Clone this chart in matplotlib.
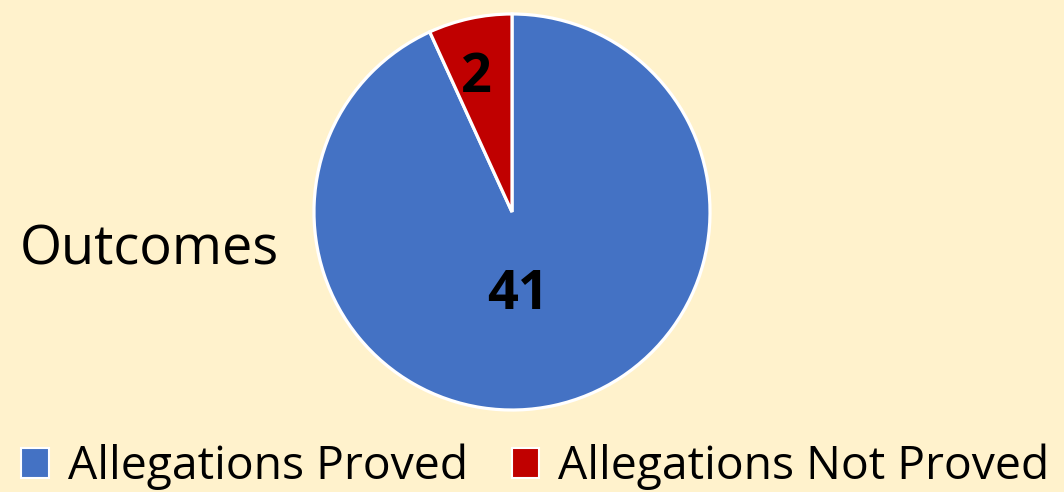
import matplotlib.pyplot as plt
from matplotlib.patches import Patch

labels = ["Allegations Proved", "Allegations Not Proved"]
values = [41, 2]          # numbers printed on the slices
slice_sizes = [41, 3]     # slice angles as drawn in the picture (~24 deg red wedge)
colors = ["#4472C4", "#C00000"]
title = "Outcomes"
bg = "#FFF2CC"

plt.rcParams["font.family"] = ["Open Sans", "DejaVu Sans"]

fig = plt.figure(figsize=(10.64, 4.92), dpi=100, facecolor=bg)
ax = fig.add_axes([312 / 1064, 80 / 492, 400 / 1064, 400 / 492])
ax.set_facecolor(bg)

ax.pie(slice_sizes, colors=colors, startangle=90, counterclock=False,
       wedgeprops=dict(edgecolor="white", linewidth=2.3))
ax.set_xlim(-1.01, 1.01)
ax.set_ylim(-1.01, 1.01)
ax.set_aspect("equal")
ax.axis("off")

# value labels
ax.text(0.03, -0.42, str(values[0]), ha="center", va="center",
        fontsize=39, fontweight="bold")
ax.text(-0.18, 0.675, str(values[1]), ha="center", va="center",
        fontsize=39, fontweight="bold")

fig.text(20 / 1064, 1 - 250 / 492, title, ha="left", va="center", fontsize=39)

handles = [Patch(facecolor=c, edgecolor="white", linewidth=1.5) for c in colors]
fig.legend(handles, labels, loc="center left", bbox_to_anchor=(0.02, 1 - 467 / 492),
           ncol=2, frameon=False, fontsize=33.3, handlelength=0.6, handleheight=0.6,
           handletextpad=0.4, columnspacing=0.95, borderaxespad=0, borderpad=0)

fig.savefig("out.png", dpi=100, facecolor=bg)
